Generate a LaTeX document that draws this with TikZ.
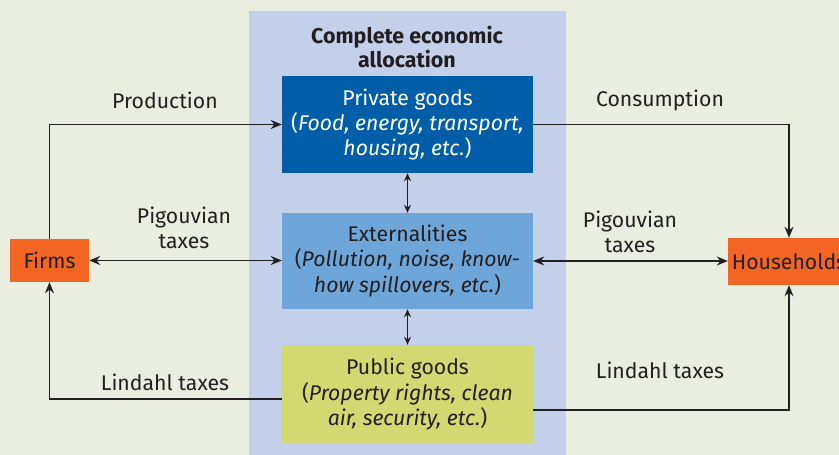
\documentclass[tikz,border=0pt]{standalone}
\usepackage{fontspec}
\setmainfont{Fira Sans}
\usetikzlibrary{arrows.meta,positioning,calc}
\definecolor{bgc}{HTML}{EAEEE1}
\definecolor{panelc}{HTML}{C4D0EA}
\definecolor{privc}{HTML}{005EA9}
\definecolor{extc}{HTML}{6FA6D9}
\definecolor{pubc}{HTML}{D4D871}
\definecolor{orc}{HTML}{F26522}
\definecolor{inkc}{HTML}{231F20}
\tikzset{
  txt/.style={font=\fontsize{21.3}{25}\selectfont, text=inkc, align=center, inner sep=0pt},
  goodbox/.style={minimum width=251bp, inner sep=0pt, align=center,
     font=\fontsize{21.3}{25.5}\selectfont},
  agent/.style={fill=orc, inner sep=0pt, text=inkc, font=\fontsize{21.3}{25}\selectfont},
  arr/.style={draw=inkc, line width=1.8bp, -{Stealth[length=11bp,width=9bp]}},
  darr/.style={draw=inkc, line width=1.8bp, {Stealth[length=11bp,width=9bp]}-{Stealth[length=11bp,width=9bp]}},
  sarr/.style={draw=inkc, line width=1.8bp, {Stealth[length=8bp,width=7bp]}-{Stealth[length=8bp,width=7bp]}},
}
\begin{document}
\begin{tikzpicture}[x=1bp,y=-1bp]
\useasboundingbox (0,0) rectangle (839,455);
\clip (0,0) rectangle (839,455);
\fill[bgc] (0,0) rectangle (839,455);
\fill[panelc] (249,11) rectangle (566,460);
\node[txt, font=\fontsize{21.5}{24}\selectfont\bfseries] (title) at (407,47) {Complete economic\\allocation};
\node[goodbox, fill=privc, text=white, minimum height=97bp] (priv) at (407.5,124.5) {Private goods\\(\textit{Food, energy, transport,}\\\textit{housing, etc.})};
\node[goodbox, fill=extc, text=inkc, minimum height=96bp] (ext) at (407.5,261) {Externalities\\(\textit{Pollution, noise, know-}\\\textit{how spillovers, etc.})};
\node[goodbox, fill=pubc, text=inkc, minimum height=98bp] (pub) at (407.5,394) {Public goods\\(\textit{Property rights, clean}\\\textit{air, security, etc.})};
\node[agent, minimum width=79bp, minimum height=43bp] (firms) at (49.5,260.5) {Firms};
\node[agent, minimum width=122bp, minimum height=47bp] (hh) at (789,261.5) {Households};
\draw[arr] (firms.north) |- (priv.west);
\draw[arr] (priv.east) -| (hh.north);
\draw[darr] (firms.east) -- (firms.east -| ext.west);
\draw[darr] (ext.east) -- (ext.east -| hh.west);
\draw[arr] ([yshift=-5bp]pub.west) -| (firms.south);
\draw[arr] ([yshift=-16bp]pub.east) -| (hh.south);
\draw[sarr] (priv.south) -- (ext.north);
\draw[sarr] (ext.south) -- (pub.north);
\node[txt] (lprod) at (165,100) {Production};
\node[txt] (lcons) at (660,100) {Consumption};
\node[txt] (lpigl) at (184,228) {Pigouvian\\taxes};
\node[txt] (lpigr) at (630,232) {Pigouvian\\taxes};
\node[txt] (llinl) at (165,382) {Lindahl taxes};
\node[txt] (llinr) at (660,370) {Lindahl taxes};
\end{tikzpicture}
\end{document}
